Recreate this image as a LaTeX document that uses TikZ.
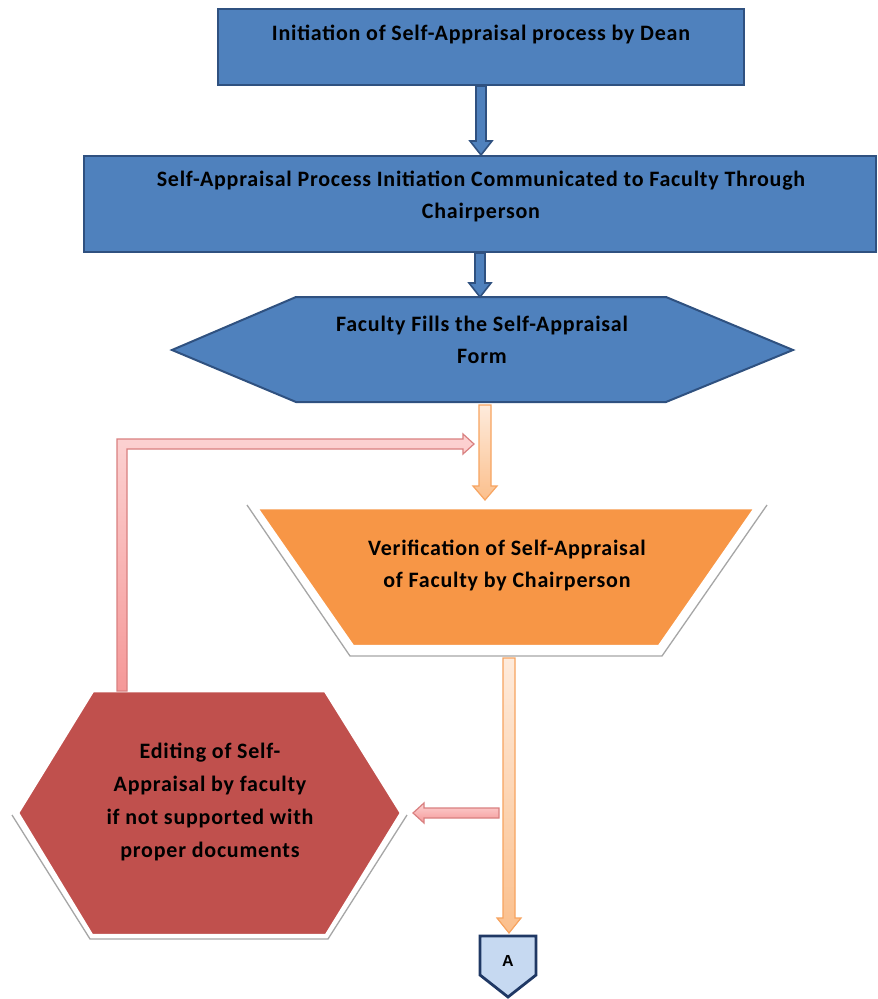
\documentclass[tikz,border=0pt]{standalone}
\usepackage{fontspec}
\setmainfont{Carlito}
\newfontfamily\boxfont[LetterSpace=3.5]{Carlito}
\newfontfamily\connfont{Liberation Sans}
\usetikzlibrary{calc}

\definecolor{bluefill}{HTML}{4F81BD}
\definecolor{blueline}{HTML}{2F5180}
\definecolor{orangefill}{HTML}{F79646}
\definecolor{orangeline}{HTML}{F7A460}
\definecolor{orangelight}{HTML}{FEEBDC}
\definecolor{orangemid}{HTML}{FBBF8C}
\definecolor{redfill}{HTML}{C0504D}
\definecolor{pinkline}{HTML}{D98080}
\definecolor{pinklight}{HTML}{FCD2D2}
\definecolor{pinkmid}{HTML}{F59898}
\definecolor{connfill}{HTML}{C6D9F1}
\definecolor{connline}{HTML}{1F3864}
\definecolor{shadowgray}{HTML}{A6A6A6}

\tikzset{
  bluebox/.style={draw=blueline, fill=bluefill, line width=2pt, rectangle, inner sep=0pt},
  blueshape/.style={draw=blueline, fill=bluefill, line width=2pt, line join=miter},
  orangeshape/.style={draw=white, fill=orangefill, line width=2.5pt, line join=miter},
  redshape/.style={draw=white, fill=redfill, line width=2.5pt, line join=miter},
  bevel/.style={draw=shadowgray, line width=1.3pt},
  label/.style={font=\boxfont\bfseries\fontsize{22}{32}\selectfont, align=center, inner sep=0pt, text=black},
  bluearrow/.style={draw=blueline, fill=bluefill, line width=1.6pt, line join=miter},
  orangearrow/.style={draw=orangeline, line width=1.2pt, top color=orangelight, bottom color=orangemid},
  pinkarrow/.style={draw=pinkline, line width=1.2pt, top color=pinklight, bottom color=pinkmid},
  connshape/.style={draw=connline, fill=connfill, line width=2.8pt, line join=miter},
}

% downward block arrow: style, start, end, half shaft, half head, head length
\newcommand\vblockarrow[6]{%
  \draw[#1] let \p1=(#2), \p2=(#3) in
    (\x1-#4,\y1) -- (\x1+#4,\y1) -- (\x1+#4,\y2+#6) -- (\x1+#5,\y2+#6)
    -- (\x1,\y2) -- (\x1-#5,\y2+#6) -- (\x1-#4,\y2+#6) -- cycle;}
% leftward block arrow
\newcommand\hblockarrow[6]{%
  \draw[#1] let \p1=(#2), \p2=(#3) in
    (\x1,\y1+#4) -- (\x2+#6,\y1+#4) -- (\x2+#6,\y1+#5) -- (\x2,\y1)
    -- (\x2+#6,\y1-#5) -- (\x2+#6,\y1-#4) -- (\x1,\y1-#4) -- cycle;}

\begin{document}
\begin{tikzpicture}[x=1pt,y=-1pt]
\useasboundingbox[fill=white] (0,0) rectangle (878,999);

% --- process boxes ---
\node[bluebox, minimum width=526pt, minimum height=76pt] (init) at (481,47) {};
\node[label] (initT) at (481,34) {Initiation of Self-Appraisal process by Dean};

\node[bluebox, minimum width=792pt, minimum height=96pt] (comm) at (480,204) {};
\node[label] (commT) at (481,196) {Self-Appraisal Process Initiation Communicated to Faculty Through\\Chairperson};

% --- hexagon: faculty fills the form ---
\draw[blueshape] (172,350) -- (296,297) -- (666,297) -- (793,350) -- (666,402) -- (296,402) -- cycle;
\coordinate (fillTop) at (482,297);
\coordinate (fillBot) at (485,405);
\node[label] (fillT) at (482,340) {Faculty Fills the Self-Appraisal\\Form};

% --- trapezoid: verification ---
\draw[bevel] (247,505) -- (350,656) -- (662,656) -- (767,505);
\draw[orangeshape] (257,508) -- (755,508) -- (659,646) -- (353,646) -- cycle;
\coordinate (verTop) at (485,500);
\coordinate (verBot) at (509,658);
\node[label] (verT) at (507,565) {Verification of Self-Appraisal\\of Faculty by Chairperson};

% --- hexagon: editing ---
\draw[bevel] (12,815) -- (90,939) -- (328,939) -- (407,815);
\draw[redshape] (18,813) -- (93,691) -- (325,691) -- (401,813) -- (326,935) -- (92,935) -- cycle;
\coordinate (editTop) at (122,691);
\coordinate (editRight) at (413,813);
\node[label, font=\boxfont\bfseries\fontsize{22}{33.3}\selectfont] (editT) at (210,802) {Editing of Self-\\Appraisal by faculty\\if not supported with\\proper documents};

% --- off-page connector ---
\draw[connshape] (480,936) -- (536,936) -- (536,975) -- (508,997) -- (480,975) -- cycle;
\node[font=\connfont\bfseries\fontsize{16}{19}\selectfont, inner sep=0pt] (conn) at (508,960.5) {A};
\coordinate (connTop) at (509,933);

% --- connectors ---
\vblockarrow{bluearrow}{init.south}{comm.north}{5pt}{11pt}{14pt}
\vblockarrow{bluearrow}{comm.south}{fillTop}{5pt}{11pt}{14pt}
\vblockarrow{orangearrow}{fillBot}{verTop}{6pt}{12pt}{14pt}
\vblockarrow{orangearrow}{verBot}{connTop}{6pt}{12pt}{15pt}

\coordinate (rejStart) at (499,813);
\hblockarrow{pinkarrow}{rejStart}{editRight}{5pt}{10pt}{11pt}

% loop back from editing to verification
\coordinate (loopCorner) at (122,444);
\coordinate (loopEnd) at (474,444);
\draw[pinkarrow] let \p1=(editTop), \p2=(loopCorner), \p3=(loopEnd) in
  (\x1-5pt,\y1) -- (\x1-5pt,\y2+5pt) -- (\x3-11pt,\y2+5pt) -- (\x3-11pt,\y2+10pt)
  -- (\x3,\y2) -- (\x3-11pt,\y2-10pt) -- (\x3-11pt,\y2-5pt) -- (\x1+5pt,\y2-5pt)
  -- (\x1+5pt,\y1) -- cycle;
\end{tikzpicture}
\end{document}
